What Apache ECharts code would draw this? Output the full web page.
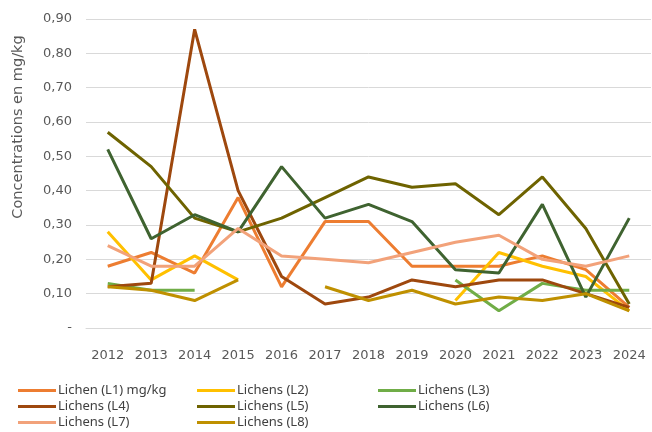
<!DOCTYPE html>
<html>
<head>
<meta charset="utf-8">
<script src="https://cdn.jsdelivr.net/npm/echarts@6/dist/echarts.min.js"></script>
<style>
  html, body { margin: 0; padding: 0; background: #fff; }
  #chart { width: 652px; height: 432px; }
</style>
</head>
<body>
<div id="chart"></div>
<script>
// années
const years = ['2012', '2013', '2014', '2015', '2016', '2017', '2018', '2019', '2020', '2021', '2022', '2023', '2024']

// concentrations en mg/kg (null = pas de mesure)
const l1 = [0.18, 0.22, 0.16, 0.38, 0.12, 0.31, 0.31, 0.18, 0.18, 0.18, 0.21, 0.17, 0.06]
const l2 = [0.28, 0.14, 0.21, 0.14, null, null, null, null, 0.08, 0.22, 0.18, 0.15, 0.05]
const l3 = [0.13, 0.11, 0.11, null, null, null, null, null, 0.14, 0.05, 0.13, 0.11, 0.11]
const l4 = [0.12, 0.13, 0.87, 0.40, 0.15, 0.07, 0.09, 0.14, 0.12, 0.14, 0.14, 0.10, 0.06]
const l5 = [0.57, 0.47, 0.32, 0.28, 0.32, 0.38, 0.44, 0.41, 0.42, 0.33, 0.44, 0.29, 0.07]
const l6 = [0.52, 0.26, 0.33, 0.28, 0.47, 0.32, 0.36, 0.31, 0.17, 0.16, 0.36, 0.09, 0.32]
const l7 = [0.24, 0.18, 0.18, 0.29, 0.21, 0.20, 0.19, 0.22, 0.25, 0.27, 0.20, 0.18, 0.21]
const l8 = [0.12, 0.11, 0.08, 0.14, null, 0.12, 0.08, 0.11, 0.07, 0.09, 0.08, 0.10, 0.05]

const yTicks = [0, 0.1, 0.2, 0.3, 0.4, 0.5, 0.6, 0.7, 0.8, 0.9]

const font = 'DejaVu Sans'
const textColor = '#595959'

const seriesDefs = [
  { name: 'Lichen (L1) mg/kg', data: l1, color: '#ED7D31' },
  { name: 'Lichens (L2)', data: l2, color: '#FFC000' },
  { name: 'Lichens (L3)', data: l3, color: '#70AD47' },
  { name: 'Lichens (L4)', data: l4, color: '#9E480E' },
  { name: 'Lichens (L5)', data: l5, color: '#6E6300' },
  { name: 'Lichens (L6)', data: l6, color: '#3F6330' },
  { name: 'Lichens (L7)', data: l7, color: '#F2A27A' },
  { name: 'Lichens (L8)', data: l8, color: '#BF9000' }
]

// une légende par colonne
const legendCol = (names, left) => ({
  data: names,
  orient: 'vertical',
  left,
  top: 384,
  icon: 'rect',
  itemWidth: 38,
  itemHeight: 3,
  itemGap: 3,
  padding: 0,
  textStyle: { fontFamily: 'Noto Sans', fontSize: 13, color: '#404040', padding: [0, 0, 0, -3] }
})

const chart = echarts.init(document.getElementById('chart'))

chart.setOption({
  animation: false,
  grid: { left: 86, right: 1, top: 19, bottom: 104 },
  legend: [
    legendCol(['Lichen (L1) mg/kg', 'Lichens (L4)', 'Lichens (L7)'], 18),
    legendCol(['Lichens (L2)', 'Lichens (L5)', 'Lichens (L8)'], 197),
    legendCol(['Lichens (L3)', 'Lichens (L6)'], 378)
  ],
  graphic: [{
    type: 'text',
    x: 11,
    y: 127,
    rotation: Math.PI / 2,
    style: {
      text: 'Concentrations en mg/kg',
      fill: textColor,
      font: '14.5px "DejaVu Sans"',
      align: 'center',
      verticalAlign: 'top'
    }
  }],
  xAxis: {
    type: 'category',
    data: years,
    boundaryGap: true,
    axisLine: { lineStyle: { color: '#d9d9d9' } },
    axisTick: { show: false },
    axisLabel: { fontFamily: font, fontSize: 13, color: textColor, margin: 21, interval: 0 }
  },
  yAxis: {
    type: 'value',
    min: 0,
    max: 0.9,
    interval: 0.1,
    axisLine: { show: false },
    axisTick: { show: false },
    splitLine: { lineStyle: { color: '#d9d9d9' } },
    axisLabel: {
      fontFamily: font,
      fontSize: 13,
      color: textColor,
      margin: 14,
      formatter: v => {
        const t = yTicks.find(x => Math.abs(x - v) < 1e-6)
        if (t === 0) return '-'
        return v.toFixed(2).replace('.', ',')
      }
    }
  },
  series: seriesDefs.map(s => ({
    name: s.name,
    type: 'line',
    data: s.data,
    showSymbol: false,
    symbol: 'none',
    connectNulls: false,
    color: s.color,
    lineStyle: { color: s.color, width: 3 }
  }))
})
</script>
</body>
</html>
